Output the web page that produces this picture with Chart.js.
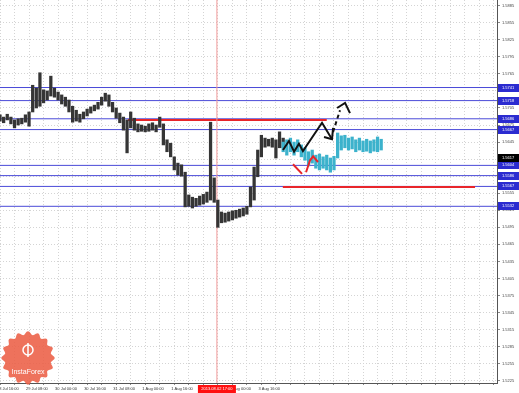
<!DOCTYPE html>
<html>
<head>
<meta charset="utf-8">
<script src="https://cdn.jsdelivr.net/npm/chart.js@4.4.0/dist/chart.umd.min.js"></script>
<style>
html, body { margin: 0; padding: 0; background: #fff; }
</style>
</head>
<body>
<canvas id="chartForex" width="519" height="393"></canvas>
<script>
// hourly bars, index 0 = 30 Jul 00:00, one entry every 2 bars
const barFirst = -32;
const barStep = 2;
const priceHigh = [
    1.5693, 1.5689, 1.5694, 1.5689, 1.5684, 1.5686, 1.5687, 1.5693, 1.5698, 1.5745,
    1.5740, 1.5767, 1.5737, 1.5735, 1.5761, 1.5740, 1.5733, 1.5728, 1.5724, 1.5719,
    1.5708, 1.5701, 1.5694, 1.5698, 1.5703, 1.5707, 1.5710, 1.5715, 1.5724, 1.5731,
    1.5728, 1.5715, 1.5705, 1.5696, 1.5689, 1.5684, 1.5698, 1.5687, 1.5677, 1.5675,
    1.5673, 1.5677, 1.5679, 1.5675, 1.5689, 1.5677, 1.5649, 1.5643, 1.5619, 1.5608,
    1.5605, 1.5592, 1.5552, 1.5548, 1.5546, 1.5550, 1.5553, 1.5557, 1.5680, 1.5582,
    1.5543, 1.5522, 1.5520, 1.5522, 1.5524, 1.5525, 1.5527, 1.5529, 1.5532, 1.5566,
    1.5601, 1.5631, 1.5657, 1.5652, 1.5650, 1.5652, 1.5649, 1.5663, 1.5652
];
const priceLow = [
    1.5682, 1.5679, 1.5684, 1.5677, 1.5670, 1.5675, 1.5677, 1.5680, 1.5673, 1.5698,
    1.5705, 1.5708, 1.5714, 1.5719, 1.5726, 1.5724, 1.5719, 1.5712, 1.5708, 1.5698,
    1.5680, 1.5682, 1.5680, 1.5686, 1.5691, 1.5696, 1.5700, 1.5703, 1.5710, 1.5717,
    1.5708, 1.5698, 1.5687, 1.5679, 1.5666, 1.5626, 1.5670, 1.5666, 1.5663, 1.5664,
    1.5663, 1.5664, 1.5666, 1.5663, 1.5671, 1.5640, 1.5628, 1.5619, 1.5596, 1.5587,
    1.5585, 1.5531, 1.5532, 1.5529, 1.5532, 1.5534, 1.5536, 1.5539, 1.5543, 1.5539,
    1.5495, 1.5503, 1.5504, 1.5506, 1.5508, 1.5511, 1.5513, 1.5515, 1.5518, 1.5531,
    1.5543, 1.5584, 1.5619, 1.5636, 1.5638, 1.5636, 1.5617, 1.5635, 1.5635
];

// projected bars (cyan)
const forecastFirst = 124;
const forecastHigh = [
    1.5645, 1.5649, 1.5652, 1.5645, 1.5649, 1.5640, 1.5635, 1.5628, 1.5631, 1.5622,
    1.5624, 1.5619, 1.5622, 1.5617, 1.5620, 1.5661, 1.5656, 1.5657, 1.5652, 1.5654,
    1.5649, 1.5652, 1.5647, 1.5650, 1.5647, 1.5649, 1.5654, 1.5650
];
const forecastLow = [
    1.5628, 1.5622, 1.5628, 1.5622, 1.5628, 1.5619, 1.5613, 1.5603, 1.5608, 1.5599,
    1.5596, 1.5599, 1.5596, 1.5592, 1.5596, 1.5617, 1.5631, 1.5635, 1.5631, 1.5633,
    1.5628, 1.5631, 1.5628, 1.5629, 1.5626, 1.5629, 1.5628, 1.5631
];

// levels
const levelLines = [1.5741, 1.5718, 1.5686, 1.5667, 1.5604, 1.5586, 1.5567, 1.5532];
const lastPrice = 1.5617;
const redLevels = [1.5684, 1.5566];
const redFrom = [38.5, 123.8];
const redTo = [148, 229.7];
const markerBar = 87.5;
const markerText = '2013.08.02 17:00';

// drawn arrows
const arrowX = [123.9, 127.2, 130.0, 132.7, 134.9, 145.4, 150.9];
const arrowY = [1.5631, 1.5647, 1.5628, 1.5642, 1.5629, 1.5679, 1.5650];
const arrowHeadX = [146.5, 150.9, 151.5];
const arrowHeadY = [1.5654, 1.5650, 1.5670];
const dashX = [151.5, 155.3];
const dashY = [1.5663, 1.5701];
const dashHeadX = [153.7, 158.1, 160.8];
const dashHeadY = [1.5705, 1.5714, 1.5696];
const redArrowAX = [129.4, 134.4];
const redArrowAY = [1.5606, 1.5589];
const redArrowBX = [136.6, 138.8, 140.5, 143.2];
const redArrowBY = [1.5592, 1.5613, 1.5620, 1.5610];

// axes
const priceTicks = [
    1.5885, 1.5855, 1.5825, 1.5795, 1.5765, 1.5735, 1.5705, 1.5675, 1.5645, 1.5615,
    1.5585, 1.5555, 1.5525, 1.5495, 1.5465, 1.5435, 1.5405, 1.5375, 1.5345, 1.5315,
    1.5285, 1.5255, 1.5225
];
const timeTickIdx = [-32, -16, 0, 16, 32, 48, 64, 80, 96, 112];
const timeTickText = ['28 Jul 16:00', '29 Jul 08:00', '30 Jul 00:00', '30 Jul 16:00', '31 Jul 08:00',
    '1 Aug 00:00', '1 Aug 16:00', '2 Aug 08:00', '3 Aug 00:00', '3 Aug 16:00'];

const xMin = -32, xMax = 241.8;
const yMin = 1.52211, yMax = 1.5895;
const fontFamily = '"Liberation Sans", Arial, sans-serif';

const toPoints = (xs, ys) => xs.map((x, i) => ({x: x, y: ys[i]}));

const datasets = [];

levelLines.forEach(v => {
    datasets.push({
        type: 'line', order: 10,
        data: [{x: xMin, y: v}, {x: xMax, y: v}],
        borderColor: '#4a4ad8', borderWidth: 1, pointRadius: 0
    });
});

redLevels.forEach((v, i) => {
    datasets.push({
        type: 'line', order: 9,
        data: [{x: redFrom[i], y: v}, {x: redTo[i], y: v}],
        borderColor: '#e8252a', borderWidth: 2, pointRadius: 0
    });
});

datasets.push({
    type: 'line', order: 8,
    data: [{x: markerBar, y: yMin}, {x: markerBar, y: yMax}],
    borderColor: '#f29a9a', borderWidth: 1, pointRadius: 0
});

datasets.push({
    type: 'bar', order: 5, grouped: false, barThickness: 2.6,
    backgroundColor: '#353535',
    data: priceHigh.map((h, i) => ({x: barFirst + i * barStep, y: [priceLow[i], h]}))
});

datasets.push({
    type: 'bar', order: 4, grouped: false, barThickness: 2.6,
    backgroundColor: '#3cb2cc',
    data: forecastHigh.map((h, i) => ({x: forecastFirst + i * barStep, y: [forecastLow[i], h]}))
});

const arrowLine = (xs, ys, color, dash) => ({
    type: 'line', order: 1,
    data: toPoints(xs, ys),
    borderColor: color, borderWidth: 2, pointRadius: 0,
    borderDash: dash || []
});
datasets.push(arrowLine(arrowX, arrowY, '#111'));
datasets.push(arrowLine(arrowHeadX, arrowHeadY, '#111'));
datasets.push(arrowLine(dashX, dashY, '#111', [4, 3]));
datasets.push(arrowLine(dashHeadX, dashHeadY, '#111'));
datasets.push(arrowLine(redArrowAX, redArrowAY, '#e8252a'));
datasets.push(arrowLine(redArrowBX, redArrowBY, '#e8252a'));

const overlayPlugin = {
    id: 'overlay',
    afterDraw(chart) {
        const {ctx, scales: {x, y}, chartArea} = chart;
        ctx.save();
        ctx.font = '4px ' + fontFamily;
        ctx.textBaseline = 'middle';
        ctx.textAlign = 'left';

        const priceBox = (v, bg) => {
            const py = Math.round(y.getPixelForValue(v));
            ctx.fillStyle = bg;
            ctx.fillRect(chartArea.right + 1, py - 4, 22, 8);
            ctx.fillStyle = '#fff';
            ctx.fillText(v.toFixed(4), chartArea.right + 5, py);
        };
        levelLines.forEach(v => priceBox(v, '#2b2bd0'));
        priceBox(lastPrice, '#000');

        // time marker box
        const mx = x.getPixelForValue(markerBar);
        ctx.fillStyle = '#ff1010';
        ctx.fillRect(mx - 19, chartArea.bottom + 2, 38, 8);
        ctx.fillStyle = '#fff';
        ctx.textAlign = 'center';
        ctx.fillText(markerText, mx, chartArea.bottom + 6);

        // badge
        const cx = 28, cy = 358, r = 25;
        ctx.beginPath();
        for (let a = 0; a <= 360; a += 3) {
            const t = a * Math.PI / 180;
            const rr = r + 1.8 * Math.cos(t * 16);
            const px = cx + rr * Math.cos(t), py = cy + rr * Math.sin(t);
            if (a === 0) ctx.moveTo(px, py); else ctx.lineTo(px, py);
        }
        ctx.closePath();
        ctx.fillStyle = 'rgba(236, 94, 70, 0.88)';
        ctx.fill();
        ctx.strokeStyle = '#fff';
        ctx.lineWidth = 1.5;
        ctx.beginPath();
        ctx.arc(cx, 350, 5, 0, Math.PI * 2);
        ctx.stroke();
        ctx.beginPath();
        ctx.moveTo(cx, 343);
        ctx.lineTo(cx, 357);
        ctx.stroke();
        ctx.fillStyle = '#fff';
        ctx.font = '7px ' + fontFamily;
        ctx.fillText('InstaForex', cx, 372);
        ctx.restore();
    }
};

const chartForex = new Chart(document.getElementById('chartForex'), {
    type: 'bar',
    data: {datasets: datasets},
    options: {
        responsive: false,
        animation: false,
        devicePixelRatio: 1,
        layout: {padding: 0},
        plugins: {legend: {display: false}, tooltip: {enabled: false}},
        scales: {
            x: {
                type: 'linear', min: xMin, max: xMax, offset: false,
                grid: {offset: false, color: '#d4d4d4', tickLength: 2, tickColor: '#888'},
                border: {color: '#555', dash: [1, 2]},
                ticks: {
                    autoSkip: false, maxRotation: 0, align: 'start', labelOffset: -3, padding: 1,
                    color: '#333', font: {size: 4, family: fontFamily},
                    callback: v => {
                        const k = timeTickIdx.indexOf(v);
                        return k >= 0 ? timeTickText[k] : '';
                    }
                },
                afterBuildTicks: s => {
                    const t = [];
                    for (let v = -32; v <= 240; v += 8) t.push({value: v});
                    s.ticks = t;
                },
                afterFit: s => { s.height = 10; s.paddingLeft = 0; s.paddingRight = 0; }
            },
            y: {
                position: 'right', min: yMin, max: yMax,
                grid: {color: '#d4d4d4', tickLength: 3, tickColor: '#888'},
                border: {color: '#555', dash: [1, 2]},
                ticks: {
                    padding: 2, color: '#444', font: {size: 4, family: fontFamily},
                    callback: v => v.toFixed(4)
                },
                afterBuildTicks: s => { s.ticks = priceTicks.map(v => ({value: v})); },
                afterFit: s => { s.width = 22; s.paddingTop = 0; s.paddingBottom = 0; }
            }
        }
    },
    plugins: [overlayPlugin]
});
</script>
</body>
</html>
